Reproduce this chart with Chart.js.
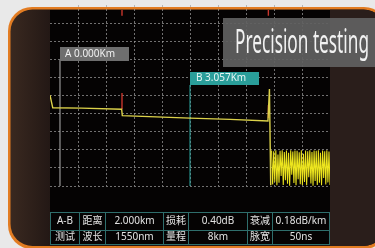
<!DOCTYPE html>
<html><head><meta charset="utf-8">
<script src="https://cdn.jsdelivr.net/npm/chart.js@4.4.1/dist/chart.umd.min.js"></script>
<style>html,body{margin:0;padding:0;background:#e9e9e9;overflow:hidden}canvas{display:block}</style>
</head><body>
<canvas id="c" width="375" height="248"></canvas>
<script>
// ---- data (km, dB) ----
const traceKm = [-0.235, -0.17, 0.5, 1.45, 1.465, 3.057, 4.0, 4.89, 4.925, 4.955];
const traceDb = [25.1, 21.6, 21.5, 21.2, 19.45, 18.75, 18.4, 17.95, 26.8, 0.2];
const noiseKm = [4.975,5.000,5.025,5.050,5.075,5.100,5.125,5.150,5.175,5.200,5.225,5.250,5.275,5.300,5.325,5.350,5.375,5.400,5.425,5.450,5.475,5.500,5.525,5.550,5.575,5.600,5.625,5.650,5.675,5.700,5.725,5.750,5.775,5.800,5.825,5.850,5.875,5.900,5.925,5.950,5.975,6.000,6.025,6.050,6.075,6.100,6.125,6.150,6.175,6.200,6.225,6.250,6.275,6.300,6.325,6.350];
const noiseDb = [9.8,0.4,9.6,1.2,9.9,0.2,8.7,0.9,9.7,2.8,9.9,0.3,9.4,1.6,9.8,0.6,9.2,0.1,9.9,3.1,9.5,0.8,9.8,0.2,9.7,1.9,9.3,0.5,9.9,0.3,8.9,1.1,9.8,0.2,9.6,2.4,9.9,0.7,9.4,0.1,9.8,1.4,9.7,0.3,9.9,0.9,9.2,0.2,9.8,2.2,9.6,0.4,9.9,1.0,9.5,0.3];
const cursorKm = [0, 3.057];
const cursorTopDb = [34.8, 27.9];
const cursorLabels = ['A 0.000Km', 'B 3.057Km'];
const eventKm = [1.458, 4.90];
const eventTopDb = [25.7, 22.4];
const eventBottomDb = [21.3, 18.8];
const markTopDb = [48.6, 47.0];
const tableRow1 = ['A-B','距离','2.000km','损耗','0.40dB','衰减','0.18dB/km'];
const tableRow2 = ['测试','波长','1550nm','量程','8km','脉宽','50ns'];
const bannerText = 'Precision testing';
const xRange = [-0.235, 6.349];
const yRange = [0, 50];

// ---- build datasets ----
const pts = (xs, ys) => xs.map((k, i) => ({x: k, y: ys[i]}));
const eventPts = [];
eventKm.forEach((k, i) => {
  eventPts.push({x: k, y: eventTopDb[i]}, {x: k, y: eventBottomDb[i]}, {x: k, y: null});
  eventPts.push({x: k, y: markTopDb[0]}, {x: k, y: markTopDb[1]}, {x: k, y: null});
});

const framePlugin = {
  id: 'frame',
  beforeDraw(chart) {
    const c = chart.ctx;
    c.save();
    c.fillStyle = '#e9e9e9'; c.fillRect(0, 0, 375, 248);
    c.beginPath(); c.roundRect(8, 7, 380, 242, 24); c.fillStyle = '#e27c22'; c.fill();
    c.beginPath(); c.roundRect(10.5, 9.5, 375, 236.5, 22);
    const g = c.createLinearGradient(10, 0, 50, 0);
    g.addColorStop(0, '#3a2920'); g.addColorStop(1, '#231815');
    c.fillStyle = g; c.fill();
    c.save(); c.clip();
    c.fillStyle = '#2a1e1b'; c.fillRect(330, 9.5, 60, 237);
    c.restore();
    c.fillStyle = '#050303'; c.fillRect(50, 10, 280, 234);
    c.restore();
  }
};

const overlayPlugin = {
  id: 'overlay',
  afterDraw(chart) {
    const c = chart.ctx, xs = chart.scales.x, ys = chart.scales.y;
    c.save();
    c.textBaseline = 'middle';
    c.font = '10px "Noto Sans", "Noto Sans CJK SC", sans-serif';
    // cursor A label
    const ax = Math.round(xs.getPixelForValue(cursorKm[0])), ay = Math.round(ys.getPixelForValue(cursorTopDb[0]));
    c.fillStyle = '#6e6e6e'; c.fillRect(ax, ay - 13, 69, 14);
    c.fillStyle = '#f0f0f0'; c.textAlign = 'left'; c.fillText(cursorLabels[0], ax + 5, ay - 6);
    // cursor B label
    const bx = Math.round(xs.getPixelForValue(cursorKm[1])), by = Math.round(ys.getPixelForValue(cursorTopDb[1]));
    c.fillStyle = '#2a9e9a'; c.fillRect(bx, by - 13, 69, 13);
    c.fillStyle = '#e6f6f4'; c.fillText(cursorLabels[1], bx + 6, by - 6.5);
    // banner
    c.fillStyle = 'rgba(96,96,96,0.93)'; c.fillRect(223, 18, 160, 49);
    c.fillStyle = '#f2f2f2'; c.textBaseline = 'alphabetic';
    c.font = '32px "Noto Sans", sans-serif';
    c.fillText(bannerText, 235, 53, 134);
    // table
    const cols = [50, 79, 105, 163, 188, 247, 272, 329];
    const rows = [212, 230, 244];
    c.strokeStyle = '#2f6e6c'; c.lineWidth = 1;
    c.beginPath();
    rows.forEach(r => { c.moveTo(50, r + 0.5); c.lineTo(330, r + 0.5); });
    cols.forEach(x => { c.moveTo(x + 0.5, 212); c.lineTo(x + 0.5, 245); });
    c.stroke();
    c.font = '10px "Noto Sans", "Noto Sans CJK SC", sans-serif';
    c.fillStyle = '#e2e2e2'; c.textAlign = 'center'; c.textBaseline = 'middle';
    [tableRow1, tableRow2].forEach((row, ri) => {
      const cy = ri === 0 ? 221.5 : 237.5;
      row.forEach((t, i) => c.fillText(t, (cols[i] + cols[i + 1]) / 2 + 0.5, cy));
    });
    c.restore();
  }
};

const gridCol = 'rgba(160,160,160,0.7)';
new Chart(document.getElementById('c'), {
  type: 'line',
  data: {
    datasets: [
      {data: pts(traceKm, traceDb), borderColor: '#dcd24a', borderWidth: 1.4},
      {data: pts(noiseKm, noiseDb), borderColor: '#ece41e', borderWidth: 1.05},
      {data: eventPts, borderColor: '#c8362c', borderWidth: 1.4},
      {data: [{x: cursorKm[0], y: 0}, {x: cursorKm[0], y: cursorTopDb[0]}], borderColor: '#b4b4b4', borderWidth: 1},
      {data: [{x: cursorKm[1], y: 0}, {x: cursorKm[1], y: cursorTopDb[1]}], borderColor: '#2aa6a1', borderWidth: 1}
    ]
  },
  options: {
    responsive: false, animation: false, devicePixelRatio: 1,
    layout: {padding: {left: 50, right: 45, top: 5, bottom: 62}},
    plugins: {legend: {display: false}, tooltip: {enabled: false}},
    elements: {point: {radius: 0}, line: {tension: 0}},
    scales: {
      x: {
        type: 'linear', min: xRange[0], max: xRange[1],
        afterBuildTicks: s => { const t = []; for (let i = 0; i <= 10; i++) t.push({value: s.min + (s.max - s.min) * i / 10}); s.ticks = t; },
        ticks: {display: false},
        grid: {drawTicks: false, color: ctx => (ctx.index === 0 || ctx.index === 10) ? 'rgba(0,0,0,0)' : gridCol},
        border: {display: false, dash: [2, 2]}
      },
      y: {
        min: yRange[0], max: yRange[1],
        ticks: {display: false, stepSize: 5},
        grid: {drawTicks: false, color: ctx => (ctx.tick && ctx.tick.value === 50) ? 'rgba(0,0,0,0)' : gridCol},
        border: {display: false, dash: [2, 2]}
      }
    }
  },
  plugins: [framePlugin, overlayPlugin]
});
</script>
</body></html>
